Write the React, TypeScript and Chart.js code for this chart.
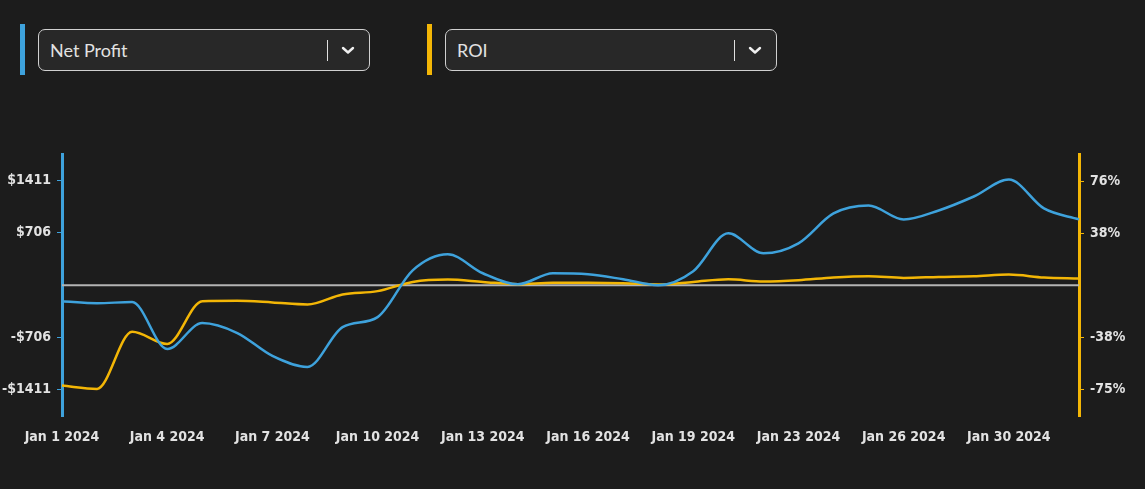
import React, { useEffect, useRef } from "react";
import { Chart, registerables } from "chart.js";

Chart.register(...registerables);

const dateLabels: string[] = [
  "Jan 1 2024", "Jan 2 2024", "Jan 3 2024", "Jan 4 2024", "Jan 5 2024", "Jan 6 2024",
  "Jan 7 2024", "Jan 8 2024", "Jan 9 2024", "Jan 10 2024", "Jan 11 2024", "Jan 12 2024",
  "Jan 13 2024", "Jan 14 2024", "Jan 15 2024", "Jan 16 2024", "Jan 17 2024", "Jan 18 2024",
  "Jan 19 2024", "Jan 20 2024", "Jan 22 2024", "Jan 23 2024", "Jan 24 2024", "Jan 25 2024",
  "Jan 26 2024", "Jan 27 2024", "Jan 29 2024", "Jan 30 2024", "Jan 31 2024", "Feb 1 2024",
];

const netProfit: number[] = [
  -215, -242, -228, -860, -511, -645, -954, -1102, -565, -430,
  200, 417, 161, 13, 161, 148, 80, 0, 188, 699,
  430, 565, 968, 1075, 887, 1008, 1196, 1425, 1035, 887,
];

const roi: number[] = [
  -72.9, -75.3, -33.8, -42.7, -11.6, -11.3, -12.5, -14.0, -6.7, -4.3,
  2.4, 4.1, 2.4, 0.7, 1.7, 1.7, 1.4, 0.5, 2.4, 4.3,
  2.7, 3.6, 5.6, 6.5, 5.3, 6.0, 6.5, 7.7, 5.6, 4.8,
];

const leftTickValues: number[] = [-1411, -706, 706, 1411];
const leftTickLabels: string[] = ["-$1411", "-$706", "$706", "$1411"];
const rightTickValues: number[] = [-75.6, -37.8, 37.8, 75.6];
const rightTickLabels: string[] = ["-75%", "-38%", "38%", "76%"];

const BLUE = "#3ea2dc";
const YELLOW = "#f3b606";
const BG = "#1c1c1c";
const TEXT = "#e2e2e2";
const TICK_FONT = { family: "'DejaVu Sans Condensed', 'DejaVu Sans', sans-serif", size: 14, weight: "bold" as const };

const zeroLinePlugin = {
  id: "zeroLine",
  beforeDatasetsDraw(chart: any) {
    const { ctx, chartArea } = chart;
    const y = chart.scales.y.getPixelForValue(0);
    ctx.save();
    ctx.strokeStyle = "#b3b3b3";
    ctx.lineWidth = 2;
    ctx.beginPath();
    ctx.moveTo(chartArea.left, y);
    ctx.lineTo(chartArea.right, y);
    ctx.stroke();
    ctx.restore();
  },
};

function Dropdown({ label, color, left, width }: { label: string; color: string; left: number; width: number }) {
  return (
    <>
      <div style={{ position: "absolute", left: left - 18, top: 24, width: 5, height: 51, background: color }} />
      <div
        style={{
          position: "absolute",
          left,
          top: 29,
          width,
          height: 40,
          border: "1px solid #d0d0d0",
          borderRadius: 7,
          background: "#282828",
          boxSizing: "content-box",
        }}
      >
        <div
          style={{
            position: "absolute",
            left: 11,
            top: 0,
            height: 40,
            lineHeight: "40px",
            fontFamily: "Lato, sans-serif",
            fontSize: 18,
            color: TEXT,
          }}
        >
          {label}
        </div>
        <div style={{ position: "absolute", left: width - 42, top: 10, width: 1, height: 21, background: "#e0e0e0" }} />
        <svg style={{ position: "absolute", left: width - 28, top: 15 }} width="14" height="10" viewBox="0 0 14 10">
          <polyline points="2,3 7,7.5 12,3" fill="none" stroke="#f0f0f0" strokeWidth="2.4" strokeLinecap="round" strokeLinejoin="round" />
        </svg>
      </div>
    </>
  );
}

export default function App() {
  const canvasRef = useRef<HTMLCanvasElement | null>(null);

  useEffect(() => {
    if (!canvasRef.current) return;
    const chart = new Chart(canvasRef.current, {
      type: "line",
      data: {
        labels: dateLabels,
        datasets: [
          {
            label: "Net Profit",
            data: netProfit,
            borderColor: BLUE,
            borderWidth: 2.5,
            pointRadius: 0,
            cubicInterpolationMode: "monotone",
            yAxisID: "y",
            fill: false,
          },
          {
            label: "ROI",
            data: roi,
            borderColor: YELLOW,
            borderWidth: 2.5,
            pointRadius: 0,
            cubicInterpolationMode: "monotone",
            yAxisID: "y1",
            fill: false,
          },
        ],
      },
      options: {
        responsive: false,
        animation: false,
        layout: { padding: { top: 13, left: 0, right: 0, bottom: 0 } },
        plugins: { legend: { display: false }, tooltip: { enabled: false } },
        scales: {
          x: {
            type: "category",
            offset: false,
            grid: { display: false, drawTicks: false },
            border: { display: false },
            afterFit: (s: any) => {
              s.height = 73;
            },
            ticks: {
              autoSkip: false,
              maxRotation: 0,
              padding: 13,
              color: TEXT,
              font: TICK_FONT,
              callback: (_v: any, i: number) => (i % 3 === 0 ? dateLabels[i] : ""),
            },
          },
          y: {
            position: "left",
            min: -1764,
            max: 1764,
            afterFit: (s: any) => {
              s.width = 62;
            },
            afterBuildTicks: (s: any) => {
              s.ticks = leftTickValues.map((v) => ({ value: v }));
            },
            grid: { drawOnChartArea: false, drawTicks: true, tickLength: 5, color: BLUE, lineWidth: 1 },
            border: { display: true, color: BLUE, width: 3 },
            ticks: {
              padding: 6,
              color: TEXT,
              font: TICK_FONT,
              callback: (v: any) => leftTickLabels[leftTickValues.indexOf(Number(v))] ?? "",
            },
          },
          y1: {
            position: "right",
            min: -95,
            max: 95,
            afterFit: (s: any) => {
              s.width = 66;
            },
            afterBuildTicks: (s: any) => {
              s.ticks = rightTickValues.map((v) => ({ value: v }));
            },
            grid: { drawOnChartArea: false, drawTicks: true, tickLength: 5, color: YELLOW, lineWidth: 1 },
            border: { display: true, color: YELLOW, width: 3 },
            ticks: {
              padding: 6,
              color: TEXT,
              font: TICK_FONT,
              callback: (v: any) => rightTickLabels[rightTickValues.indexOf(Number(v))] ?? "",
            },
          },
        },
      },
      plugins: [zeroLinePlugin],
    });
    return () => chart.destroy();
  }, []);

  return (
    <div style={{ position: "fixed", left: 0, top: 0, width: 1145, height: 489, background: BG, overflow: "hidden" }}>
      <Dropdown label="Net Profit" color={BLUE} left={38} width={330} />
      <Dropdown label="ROI" color={YELLOW} left={445} width={330} />
      <canvas ref={canvasRef} width={1145} height={349} style={{ position: "absolute", left: 0, top: 140, width: 1145, height: 349 }} />
    </div>
  );
}
